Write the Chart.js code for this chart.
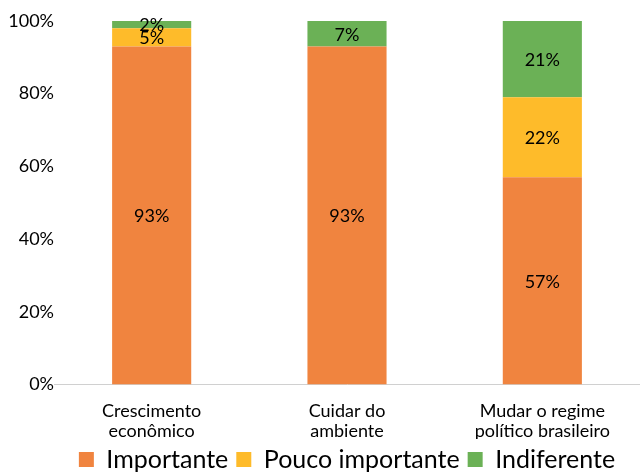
<!DOCTYPE html>
<html>
<head>
<meta charset="utf-8">
<script src="https://cdn.jsdelivr.net/npm/chart.js@4.4.1/dist/chart.umd.min.js"></script>
<style>
  html, body { margin: 0; padding: 0; background: #fff; }
  #wrap { width: 640px; height: 472px; }
</style>
</head>
<body>
<div id="wrap"><canvas id="chart"></canvas></div>
<script>
const categories = [["Crescimento", "econômico"], ["Cuidar do", "ambiente"], ["Mudar o regime", "político brasileiro"]];
const importante = [93, 93, 57];
const poucoImportante = [5, 0, 22];
const indiferente = [2, 7, 21];
const yTicks = [0, 20, 40, 60, 80, 100];

const FONT = "Lato, 'Open Sans', sans-serif";

// draws the % value in the middle of each segment
const barLabels = {
    id: 'barLabels',
    afterDatasetsDraw(chart) {
        const ctx = chart.ctx;
        ctx.save();
        ctx.font = "18px " + FONT;
        ctx.fillStyle = '#000';
        ctx.textAlign = 'center';
        ctx.textBaseline = 'middle';
        chart.data.datasets.forEach((ds, i) => {
            chart.getDatasetMeta(i).data.forEach((bar, j) => {
                const v = ds.data[j];
                if (!v) return;
                const p = bar.getProps(['x', 'y', 'base'], true);
                ctx.fillText(v + '%', p.x, (p.y + p.base) / 2 + 1);
            });
        });
        ctx.restore();
    }
};

new Chart(document.getElementById('chart'), {
    type: 'bar',
    data: {
        labels: categories,
        datasets: [
            { label: 'Importante', data: importante, backgroundColor: '#F0843F' },
            { label: 'Pouco importante', data: poucoImportante, backgroundColor: '#FEBB2A' },
            { label: 'Indiferente', data: indiferente, backgroundColor: '#6BB156' }
        ]
    },
    options: {
        responsive: true,
        maintainAspectRatio: false,
        animation: false,
        layout: { padding: { top: 21, right: 0, left: 0, bottom: -10 } },
        datasets: { bar: { categoryPercentage: 1, barPercentage: 0.405 } },
        plugins: {
            legend: {
                position: 'bottom',
                fullSize: false,
                labels: {
                    font: { family: FONT, size: 25, lineHeight: 0.2 },
                    color: '#000',
                    boxWidth: 15,
                    boxHeight: 15,
                    padding: 8
                }
            },
            tooltip: { enabled: false }
        },
        scales: {
            x: {
                stacked: true,
                grid: { display: false },
                border: { display: true, color: '#D0D0D0', width: 1 },
                ticks: { font: { family: FONT, size: 18, lineHeight: 1.1 }, color: '#000', padding: 9 },
                afterFit(scale) { scale.height -= 11; }
            },
            y: {
                stacked: true,
                min: 0,
                max: 100,
                afterBuildTicks(scale) { scale.ticks = yTicks.map(v => ({ value: v })); },
                afterFit(scale) { scale.width = 54; },
                grid: { display: false, drawTicks: false },
                border: { display: false },
                ticks: {
                    font: { family: FONT, size: 18 },
                    color: '#000',
                    padding: 0,
                    callback: v => v + '%'
                }
            }
        }
    },
    plugins: [barLabels]
});
</script>
</body>
</html>
